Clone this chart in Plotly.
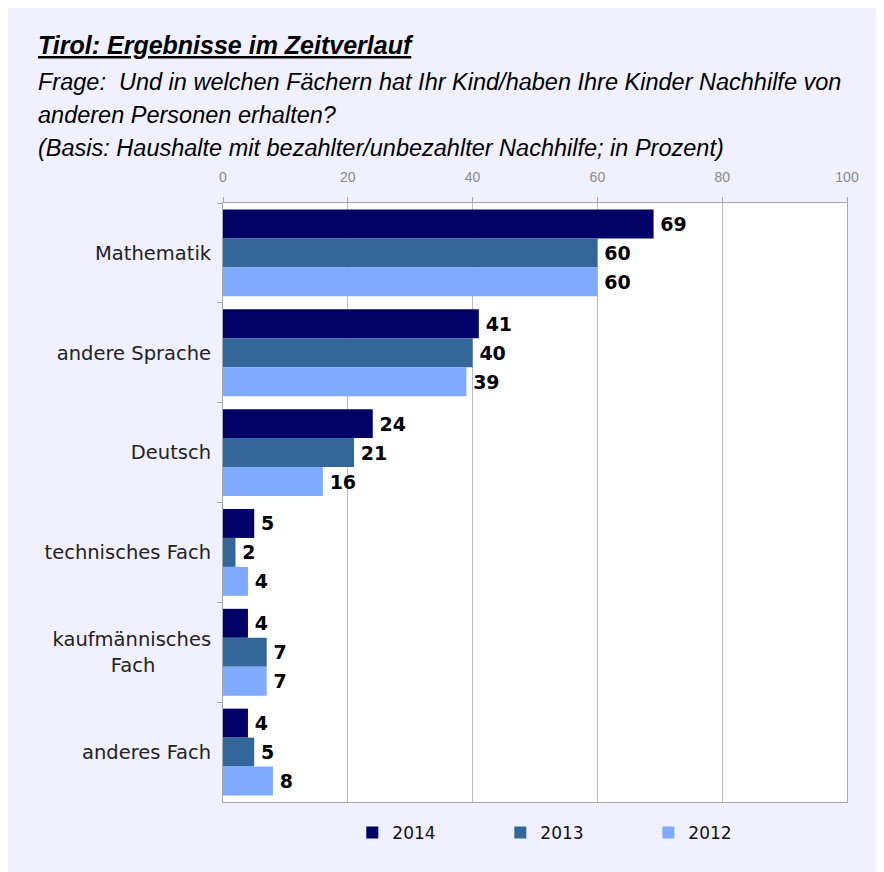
import plotly.graph_objects as go

categories = ["Mathematik", "andere Sprache", "Deutsch", "technisches Fach",
              "kaufmännisches<br>Fach" + "\u00a0" * 9, "anderes Fach"]
years = ["2014", "2013", "2012"]
values_2014 = [69, 41, 24, 5, 4, 4]
values_2013 = [60, 40, 21, 2, 7, 5]
values_2012 = [60, 39, 16, 4, 7, 8]
x_ticks = [0, 20, 40, 60, 80, 100]

colors = ["#000066", "#336699", "#7FAAFF"]
series = [values_2014, values_2013, values_2012]

fig = go.Figure()
for name, vals, col in zip(years, series, colors):
    fig.add_trace(go.Bar(
        y=categories, x=vals, name=name, orientation="h",
        marker=dict(color=col, line=dict(width=0)),
        text=["\u2009" + str(v) for v in vals], textposition="outside",
        textfont=dict(family="DejaVu Sans", size=19, color="#000000", weight="bold"),
        constraintext="none", cliponaxis=False,
    ))

OFF = 8  # page body margin
W, H = 884, 872
L, T = 223 - OFF, 203 - OFF
R = W - (847 - OFF)
B = H - (802 - OFF)
PH = H - T - B
PW = W - L - R

def py(p):
    # p: screen pixel y
    return (H - B - (p - OFF)) / PH

def px(p):
    return ((p - OFF) - L) / PW

fig.update_layout(
    width=W, height=H,
    margin=dict(l=L, r=R, t=T, b=B, autoexpand=False),
    paper_bgcolor="#F0F0FF", plot_bgcolor="#FFFFFF",
    barmode="group", bargap=0.13, bargroupgap=0,
    showlegend=True,
    legend=dict(orientation="h", x=0.563, xanchor="center", y=py(833), yanchor="middle",
                font=dict(family="DejaVu Sans", size=17, color="#111111"),
                entrywidth=103, entrywidthmode="pixels",
                traceorder="normal", bgcolor="rgba(0,0,0,0)"),
    xaxis=dict(side="top", range=[0, 100], tickvals=x_ticks,
               ticktext=[str(t) for t in x_ticks],
               showgrid=True, gridcolor="#BBBBBB", gridwidth=1,
               showline=True, linecolor="#A8A8A8", linewidth=1, mirror=True,
               ticks="outside", ticklen=5, tickcolor="#A8A8A8",
               tickfont=dict(family="Liberation Sans", size=14, color="#8A8A8A"),
               ticklabelstandoff=9,
               zeroline=False, fixedrange=True),
    yaxis=dict(autorange="reversed", type="category",
               showline=True, linecolor="#A8A8A8", linewidth=1, mirror=True,
               ticks="outside", ticklen=5, tickcolor="#A8A8A8", tickson="boundaries",
               tickfont=dict(family="DejaVu Sans", size=19.5, color="#222222"),
               ticklabelstandoff=7, showgrid=False, fixedrange=True),
    font=dict(family="DejaVu Sans"),
)

title_font = dict(family="Liberation Sans", size=25, color="#000000")
sub_font = dict(family="Liberation Sans", size=23.5, color="#000000")
lines = [
    ("<b><i><u>Tirol: Ergebnisse im Zeitverlauf</u></i></b>", 45, title_font),
    ("<i>Frage:\u00a0 Und in welchen Fächern hat Ihr Kind/haben Ihre Kinder Nachhilfe von</i>", 82, sub_font),
    ("<i>anderen Personen erhalten?</i>", 115, sub_font),
    ("<i>(Basis: Haushalte mit bezahlter/unbezahlter Nachhilfe; in Prozent)</i>", 148, sub_font),
]
for txt, y, f in lines:
    fig.add_annotation(text=txt, xref="paper", yref="paper", x=px(36), y=py(y),
                       xanchor="left", yanchor="middle", showarrow=False, font=f)

fig.write_html("out.html")
